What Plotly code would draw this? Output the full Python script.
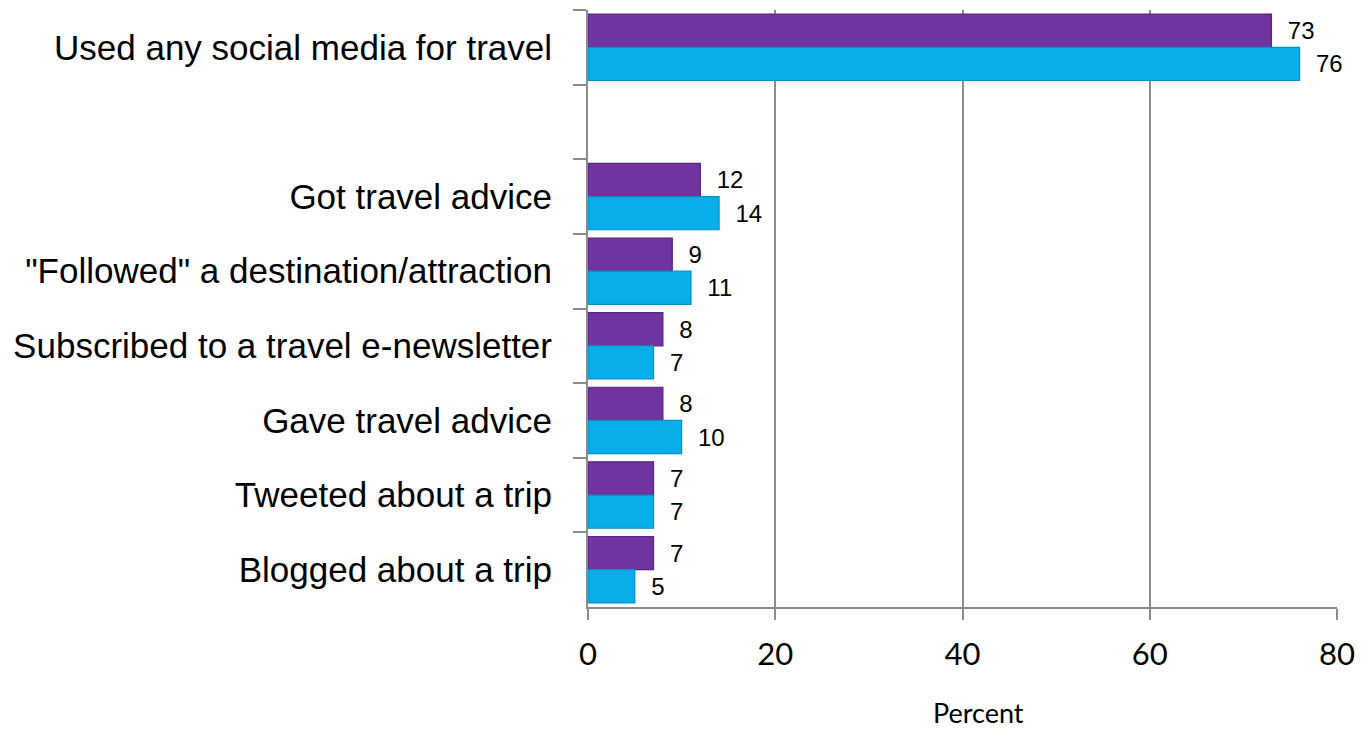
import plotly.graph_objects as go

# Survey activities, top to bottom; the blank entry leaves a spacer row
categories = [
    "Used any social media for travel",
    " ",
    "Got travel advice",
    "\"Followed\" a destination/attraction",
    "Subscribed to a travel e-newsletter",
    "Gave travel advice",
    "Tweeted about a trip",
    "Blogged about a trip",
]
series_a = [73, None, 12, 9, 8, 8, 7, 7]   # purple bars
series_b = [76, None, 14, 11, 7, 10, 7, 5]  # blue bars
x_ticks = [0, 20, 40, 60, 80]

label_font = "Liberation Sans Narrow, Arial Narrow, Liberation Sans, Arial, sans-serif"
num_font = "Liberation Sans, Arial, sans-serif"
axis_font = "Lato, Open Sans, Noto Sans, sans-serif"


def labels(vals):
    return ["" if v is None else "  " + str(v) for v in vals]


fig = go.Figure()
fig.add_trace(go.Bar(
    y=categories, x=series_a, orientation="h",
    marker=dict(color="#7033A0", line=dict(color="#5A2385", width=1.2)),
    text=labels(series_a), textposition="outside",
    textfont=dict(family=num_font, size=24, color="#000000"),
    cliponaxis=False, showlegend=False,
))
fig.add_trace(go.Bar(
    y=categories, x=series_b, orientation="h",
    marker=dict(color="#07AEEA", line=dict(color="#0590C4", width=1.2)),
    text=labels(series_b), textposition="outside",
    textfont=dict(family=num_font, size=24, color="#000000"),
    cliponaxis=False, showlegend=False,
))

fig.update_layout(
    width=1367, height=731,
    margin=dict(l=588, r=30, t=10, b=124, autoexpand=False),
    barmode="group", bargap=0.11, bargroupgap=0.0,
    plot_bgcolor="#FFFFFF", paper_bgcolor="#FFFFFF",
    showlegend=False,
)
fig.update_yaxes(
    type="category", categoryorder="array", categoryarray=categories,
    autorange="reversed", automargin=False,
    tickson="boundaries", ticks="outside", ticklen=13, tickwidth=2, tickcolor="#8C8C8C",
    showline=True, linecolor="#8C8C8C", linewidth=2,
    showgrid=False, ticklabelstandoff=27,
    tickfont=dict(family=label_font, size=35, color="#000000"),
)
fig.update_xaxes(
    range=[0, 80], tickvals=x_ticks, ticktext=[str(v) for v in x_ticks],
    ticks="outside", ticklen=11, tickwidth=2, tickcolor="#8C8C8C",
    showline=True, linecolor="#8C8C8C", linewidth=2,
    showgrid=True, gridcolor="#8C8C8C", gridwidth=1.5, zeroline=False,
    tickfont=dict(family=axis_font, size=31, color="#000000"),
    ticklabelstandoff=8, automargin=False,
)
# Axis caption, sitting slightly right of the plot centre
fig.add_annotation(
    text="Percent", xref="paper", yref="paper", x=0.521, y=-0.177,
    xanchor="center", yanchor="middle", showarrow=False, borderpad=0,
    font=dict(family=axis_font, size=27, color="#000000"),
)

fig.write_html("out.html")
